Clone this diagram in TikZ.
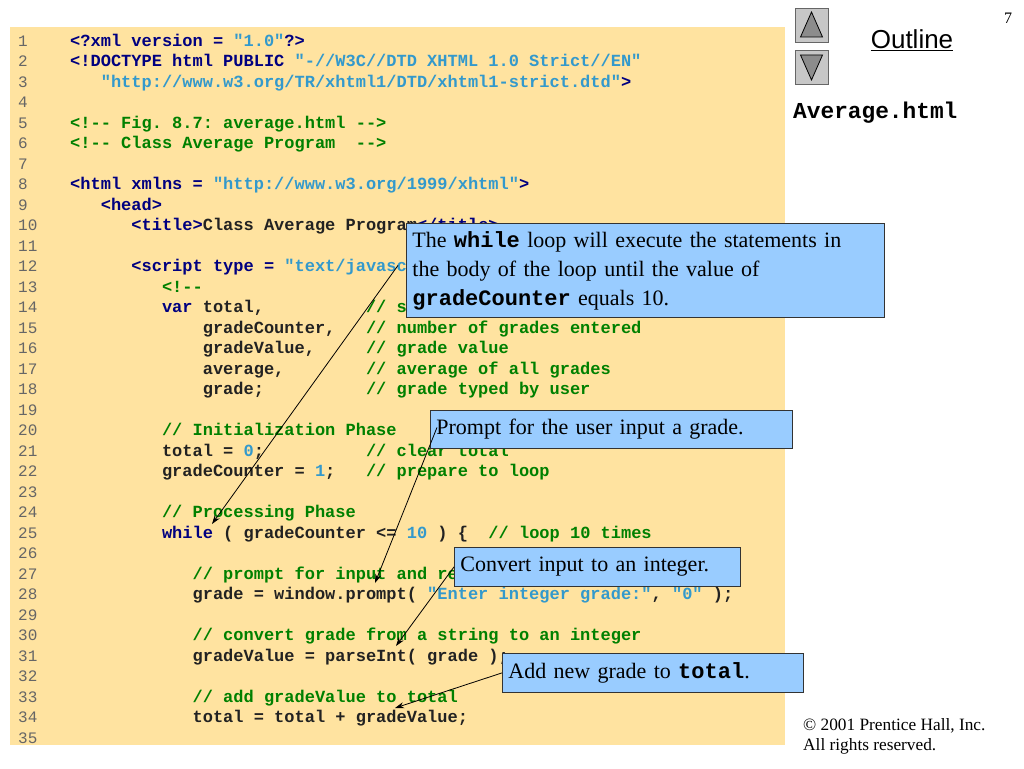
\documentclass[tikz,border=0pt]{standalone}
\usepackage{fontspec}
\setmainfont{Liberation Serif}
\setsansfont{Liberation Sans}
\setmonofont{Liberation Mono}
\usetikzlibrary{arrows.meta}
\definecolor{bgy}{HTML}{FFE3A0}
\definecolor{kwc}{HTML}{000080}
\definecolor{stc}{HTML}{3399CC}
\definecolor{cmc}{HTML}{008000}
\definecolor{plc}{HTML}{222222}
\definecolor{lnc}{HTML}{666666}
\definecolor{cbox}{HTML}{99CCFF}
\newcommand\kw[1]{\textcolor{kwc}{#1}}
\newcommand\st[1]{\textcolor{stc}{#1}}
\newcommand\cm[1]{\textcolor{cmc}{#1}}
\newcommand\nm[1]{\textcolor{stc}{#1}}
\newcommand\sps[1]{\hspace*{#1\dimexpr 10.2pt\relax}}
\begin{document}
\begin{tikzpicture}[x=1pt,y=-1pt,
  codeline/.style={anchor=base west,inner sep=0pt,font=\fontsize{17}{17}\ttfamily\bfseries,text=plc},
  lnum/.style={anchor=base west,inner sep=0pt,font=\fontsize{16}{16}\ttfamily,text=lnc},
  callout/.style={draw=black!80,fill=cbox,line width=0.8pt,anchor=north west,inner sep=0pt,align=left,font=\fontsize{22}{29}\selectfont},
  pointer/.style={-{Stealth[length=9pt,width=6pt]},line width=0.8pt,black},
  btn/.style={draw=black!60,fill=black!22,line width=0.8pt}]
\useasboundingbox (0,0) rectangle (1024,768);
\fill[white] (0,0) rectangle (1024,768);
\fill[bgy] (10,27) rectangle (785,745);
\foreach \i in {1,...,35} {
  \node[lnum] (n\i) at (18,{46+(\i-1)*20.5}) {\i};
}
\def\L#1#2{\node[codeline] (c#1) at (70,{46+(#1-1)*20.5}) {#2};}
\L{1}{\kw{<?xml version = }\st{"1.0"}\kw{?>}}
\L{2}{\kw{<!DOCTYPE html PUBLIC }\st{"-//W3C//DTD XHTML 1.0 Strict//EN"}}
\L{3}{\sps{3}\st{"http://www.w3.org/TR/xhtml1/DTD/xhtml1-strict.dtd"}\kw{>}}
\L{5}{\cm{<!-{}- Fig. 8.7: average.html -{}->}}
\L{6}{\cm{<!-{}- Class Average Program\sps{2}-{}->}}
\L{8}{\kw{<html xmlns = }\st{"http://www.w3.org/1999/xhtml"}\kw{>}}
\L{9}{\sps{3}\kw{<head>}}
\L{10}{\sps{6}\kw{<title>}Class Average Program\kw{</title>}}
\L{12}{\sps{6}\kw{<script type = }\st{"text/javascript"}\kw{>}}
\L{13}{\sps{9}\cm{<!-{}-}}
\L{14}{\sps{9}\kw{var} total,\sps{10}\cm{// sum of grades}}
\L{15}{\sps{13}gradeCounter,\sps{3}\cm{// number of grades entered}}
\L{16}{\sps{13}gradeValue,\sps{5}\cm{// grade value}}
\L{17}{\sps{13}average,\sps{8}\cm{// average of all grades}}
\L{18}{\sps{13}grade;\sps{10}\cm{// grade typed by user}}
\L{20}{\sps{9}\cm{// Initialization Phase}}
\L{21}{\sps{9}total = \nm{0};\sps{10}\cm{// clear total}}
\L{22}{\sps{9}gradeCounter = \nm{1};\sps{3}\cm{// prepare to loop}}
\L{24}{\sps{9}\cm{// Processing Phase}}
\L{25}{\sps{9}\kw{while} ( gradeCounter <= \nm{10} ) \{\sps{2}\cm{// loop 10 times}}
\L{27}{\sps{12}\cm{// prompt for input and read grade from user}}
\L{28}{\sps{12}grade = window.prompt( \st{"Enter integer grade:"}, \st{"0"} );}
\L{30}{\sps{12}\cm{// convert grade from a string to an integer}}
\L{31}{\sps{12}gradeValue = parseInt( grade );}
\L{33}{\sps{12}\cm{// add gradeValue to total}}
\L{34}{\sps{12}total = total + gradeValue;}
% callouts
\node[callout,minimum width=478pt,minimum height=94pt,text width=466pt,inner xsep=6pt] (b1) at (406,223)
 {The \texttt{\bfseries while} loop will execute the statements in\\the body of the loop until the value of\\\texttt{\bfseries gradeCounter} equals 10.};
\node[callout,minimum width=362pt,minimum height=38pt,text width=350pt,inner xsep=6pt] (b2) at (430,410)
 {Prompt for the user input a grade.};
\node[callout,minimum width=286pt,minimum height=39pt,text width=274pt,inner xsep=6pt] (b3) at (454,547)
 {Convert input to an integer.};
\node[callout,minimum width=301pt,minimum height=39pt,text width=289pt,inner xsep=6pt] (b4) at (502,653)
 {Add new grade to \texttt{\bfseries total}.};
\coordinate (t1) at (212,524);
\coordinate (t2) at (375,583);
\coordinate (t3) at (396,646);
\coordinate (t4) at (395,708);
\draw[pointer] ([shift={(-8,-5)}]b1.west) -- (t1);
\draw[pointer] ([shift={(7,-2)}]b2.west) -- (t2);
\draw[pointer] (b3.west) -- (t3);
\draw[pointer] (b4.west) -- (t4);
% right panel
\node[btn,minimum width=33pt,minimum height=34pt,inner sep=0pt] (up) at (811.5,25) {};
\node[btn,minimum width=33pt,minimum height=34pt,inner sep=0pt] (dn) at (811.5,67) {};
\draw[fill=black!45,line width=0.8pt] ([shift={(-11,12)}]up.center) -- ([shift={(0,-13)}]up.center) -- ([shift={(11,12)}]up.center) -- cycle;
\draw[fill=black!45,line width=0.8pt] ([shift={(-11,-12)}]dn.center) -- ([shift={(0,13)}]dn.center) -- ([shift={(11,-12)}]dn.center) -- cycle;
\node[font=\fontsize{26}{26}\sffamily,inner sep=0pt] (ol) at (912,40) {\underline{Outline}};
\node[font=\fontsize{16}{16}\selectfont,inner sep=0pt] (pg) at (1008,18) {7};
\node[font=\fontsize{22.8}{22.8}\ttfamily\bfseries,anchor=west,inner sep=0pt] (fn) at (793,113) {Average.html};
\node[font=\fontsize{17.3}{20}\selectfont,anchor=north west,align=left,inner sep=0pt] (cp) at (803,718) {© 2001 Prentice Hall, Inc.\\All rights reserved.};
\end{tikzpicture}
\end{document}
